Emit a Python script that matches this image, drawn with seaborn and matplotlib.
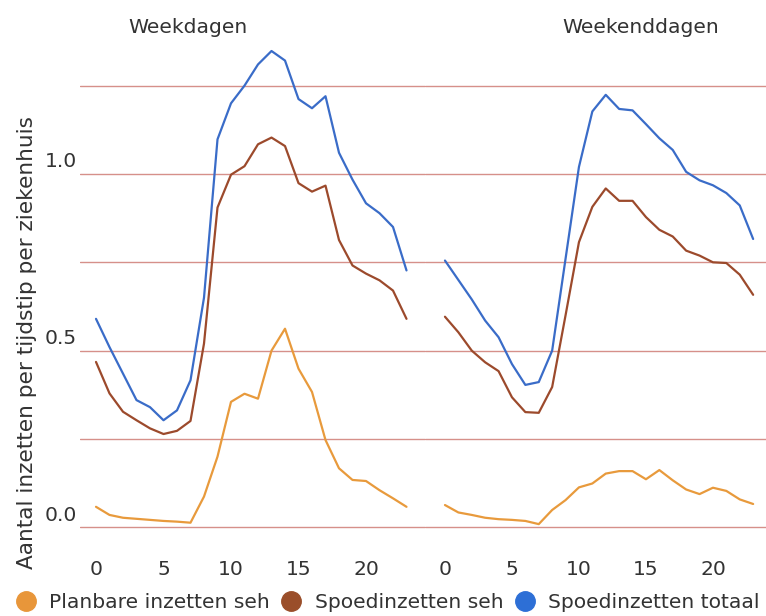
import numpy as np
import pandas as pd
import matplotlib
matplotlib.use("Agg")
import matplotlib.pyplot as plt
from matplotlib.lines import Line2D
from matplotlib.transforms import ScaledTranslation
import seaborn as sns

hours = list(range(24))

series_names = ["Planbare inzetten seh", "Spoedinzetten seh", "Spoedinzetten totaal"]
panel_titles = ["Weekdagen", "Weekenddagen"]
y_label = "Aantal inzetten per tijdstip per ziekenhuis"
x_ticks = [0, 5, 10, 15, 20]
y_ticks = [0.0, 0.25, 0.5, 0.75, 1.0, 1.25]

weekday_planbare = [0.058, 0.035, 0.027, 0.024, 0.021, 0.018, 0.016, 0.013, 0.087, 0.20,
                    0.355, 0.378, 0.364, 0.50, 0.562, 0.449, 0.383, 0.247, 0.167, 0.134,
                    0.131, 0.105, 0.082, 0.058]
weekday_spoed_seh = [0.468, 0.379, 0.327, 0.303, 0.280, 0.264, 0.273, 0.301, 0.52, 0.905,
                     0.998, 1.022, 1.084, 1.103, 1.079, 0.974, 0.950, 0.967, 0.813, 0.741,
                     0.718, 0.699, 0.67, 0.59]
weekday_spoed_totaal = [0.59, 0.51, 0.435, 0.36, 0.34, 0.303, 0.331, 0.416, 0.65, 1.098,
                        1.20, 1.25, 1.31, 1.348, 1.321, 1.212, 1.186, 1.22, 1.06, 0.984,
                        0.917, 0.889, 0.85, 0.727]

weekend_planbare = [0.063, 0.042, 0.035, 0.027, 0.023, 0.021, 0.018, 0.009, 0.049, 0.077,
                    0.113, 0.124, 0.152, 0.159, 0.159, 0.136, 0.162, 0.133, 0.107, 0.094,
                    0.112, 0.103, 0.079, 0.066]
weekend_spoed_seh = [0.596, 0.552, 0.50, 0.467, 0.442, 0.368, 0.326, 0.324, 0.397, 0.60,
                     0.807, 0.907, 0.959, 0.924, 0.924, 0.878, 0.842, 0.823, 0.783, 0.769,
                     0.750, 0.748, 0.715, 0.658]
weekend_spoed_totaal = [0.755, 0.70, 0.645, 0.585, 0.538, 0.462, 0.403, 0.411, 0.50, 0.76,
                        1.02, 1.177, 1.224, 1.184, 1.18, 1.141, 1.101, 1.068, 1.006, 0.982,
                        0.968, 0.946, 0.911, 0.816]

line_colors = ["#e89a3c", "#9c4a2c", "#3a6cc8"]
legend_colors = ["#e8963a", "#9a4e2a", "#2d6fd6"]
grid_color = "#d6908a"
text_color = "#333333"
fs = 14.6


def long_frame(values_list):
    frames = []
    for name, vals in zip(series_names, values_list):
        frames.append(pd.DataFrame({"uur": hours, "waarde": vals, "reeks": name}))
    return pd.concat(frames, ignore_index=True)


df_week = long_frame([weekday_planbare, weekday_spoed_seh, weekday_spoed_totaal])
df_weekend = long_frame([weekend_planbare, weekend_spoed_seh, weekend_spoed_totaal])

sns.set_theme(style="white")
plt.rcParams["font.family"] = ["DejaVu Sans"]

fig = plt.figure(figsize=(7.66, 6.16), dpi=100)
W, H = 766.0, 616.0
bottom = (H - 548.5) / H
height = 508.8 / H
ax1 = fig.add_axes([80 / W, bottom, 345 / W, height])
ax2 = fig.add_axes([425 / W, bottom, 341 / W, height])

palette = dict(zip(series_names, line_colors))
for ax, df, xlim in [(ax1, df_week, (-1.185, 24.37)), (ax2, df_weekend, (-1.49, 23.96))]:
    sns.lineplot(data=df, x="uur", y="waarde", hue="reeks", palette=palette,
                 ax=ax, legend=False, linewidth=1.6, zorder=3)
    ax.set_xlim(*xlim)
    ax.set_ylim(-0.06, 1.38)
    ax.set_yticks(y_ticks)
    ax.set_xticks(x_ticks)
    ax.yaxis.grid(True, color=grid_color, linewidth=1.0)
    ax.xaxis.grid(False)
    for s in ax.spines.values():
        s.set_visible(False)
    ax.set_xlabel("")
    ax.set_ylabel("")
    ax.tick_params(axis="both", length=0, colors=text_color, labelsize=fs)
    ax.tick_params(axis="x", pad=8)
    ax.set_facecolor("none")

ax1.set_yticklabels([(f"{v:.1f}" if abs(v * 2 - round(v * 2)) < 1e-9 else "")
                     for v in y_ticks])
ax1.tick_params(axis="y", pad=2)
for lab in ax1.get_yticklabels():
    lab.set_va("bottom")
    lab.set_transform(lab.get_transform() + ScaledTranslation(0, 2 / 72, fig.dpi_scale_trans))
ax2.set_yticklabels([])

ax1.set_title(panel_titles[0], x=0.313, pad=5, fontsize=fs, color=text_color)
ax2.set_title(panel_titles[1], x=0.633, pad=5, fontsize=fs, color=text_color)

fig.text(27 / W, 1 - 343 / H, y_label, rotation=90, ha="center", va="center",
         fontsize=15.6, color=text_color)

handles = [Line2D([], [], marker="o", linestyle="", markersize=14,
                  markerfacecolor=c, markeredgecolor=c) for c in legend_colors]
fig.legend(handles, series_names, loc="center", bbox_to_anchor=(0.506, 1 - 603 / H),
           ncol=3, frameon=False, fontsize=fs, handletextpad=0.65, columnspacing=0.55,
           handlelength=1.0, labelcolor=text_color, borderaxespad=0)

fig.savefig("out.png", dpi=100)
